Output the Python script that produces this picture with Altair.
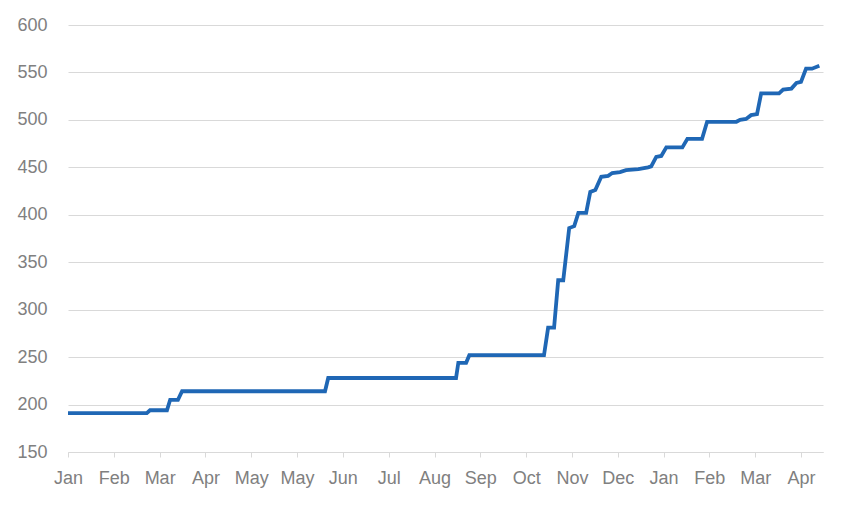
import json
import altair as alt
import pandas as pd

# x position in month-tick units (0 = first "Jan" tick), y = value
x_pos = [0.00, 1.72, 1.79, 2.16, 2.23, 2.40, 2.49, 5.61, 5.68, 8.47, 8.52, 8.69, 8.76,
         10.39, 10.48, 10.61, 10.70, 10.81, 10.94, 11.05, 11.14, 11.31, 11.40, 11.51,
         11.64, 11.79, 11.88, 12.05, 12.18, 12.45, 12.66, 12.73, 12.84, 12.95, 13.06,
         13.41, 13.52, 13.84, 13.95, 14.59, 14.67, 14.80, 14.91, 15.04, 15.13, 15.52,
         15.61, 15.79, 15.90, 16.00, 16.11, 16.24, 16.40]
values = [191, 191, 194, 194, 205, 205, 214, 214, 228, 228, 244, 244, 252,
          252, 281, 281, 331, 331, 386, 388, 402, 402, 424, 426,
          440, 441, 444, 445, 447, 448, 450, 451, 461, 462, 471,
          471, 480, 480, 498, 498, 500, 501, 505, 506, 528, 528,
          532, 533, 539, 540, 554, 554, 557]

tick_labels = ["Jan", "Feb", "Mar", "Apr", "May", "May", "Jun", "Jul", "Aug", "Sep",
               "Oct", "Nov", "Dec", "Jan", "Feb", "Mar", "Apr"]
y_ticks = [150, 200, 250, 300, 350, 400, 450, 500, 550, 600]

df = pd.DataFrame({"x": x_pos, "y": values, "order": list(range(len(x_pos)))})

label_expr = json.dumps(tick_labels) + "[datum.value]"

font = "Liberation Sans"
label_color = "#808080"
grid_color = "#d9d9d9"

chart = alt.Chart(df).mark_line(color="#1f67b5", strokeWidth=3.8, strokeJoin="miter").encode(
    x=alt.X("x:Q",
            scale=alt.Scale(domain=[0, 16.48], nice=False, zero=False),
            axis=alt.Axis(values=list(range(len(tick_labels))), labelExpr=label_expr,
                          title=None, grid=False, domainColor=grid_color, domainWidth=1,
                          tickColor=grid_color, tickSize=5, labelPadding=12,
                          labelFont=font, labelFontSize=18, labelColor=label_color,
                          labelOverlap=False, labelFlush=False)),
    y=alt.Y("y:Q",
            scale=alt.Scale(domain=[150, 600], nice=False, zero=False),
            axis=alt.Axis(values=y_ticks, title=None, grid=True, gridColor=grid_color,
                          gridWidth=1, domain=False, ticks=False, labelPadding=21,
                          labelFont=font, labelFontSize=18, labelColor=label_color)),
    order="order:Q",
).properties(
    width=755,
    height=427,
    autosize=alt.AutoSizeParams(type="none"),
    padding={"left": 60, "top": 17, "right": 17, "bottom": 48},
).configure(
    background="white",
    view=alt.ViewConfig(stroke=None),
)

chart.save("out.html", embed_options={"renderer": "svg", "actions": False})
